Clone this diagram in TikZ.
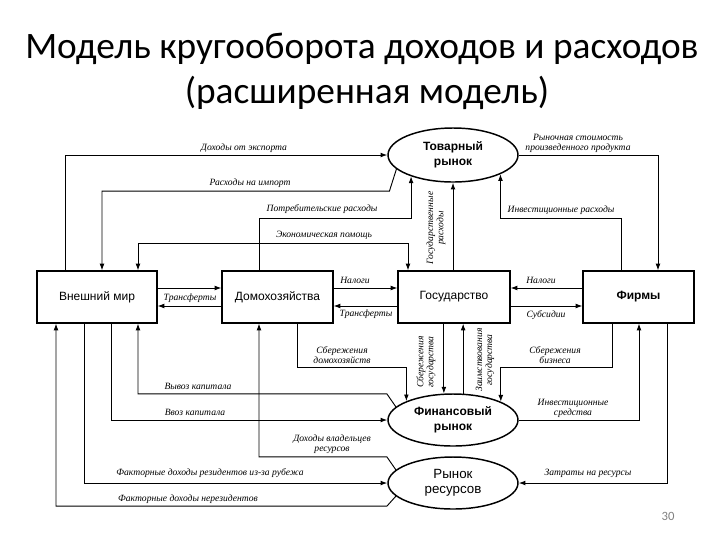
\documentclass[tikz,border=0pt]{standalone}
\usepackage{fontspec}
\setmainfont{Liberation Serif}
\newfontfamily\boxfont{Liberation Sans}
\newfontfamily\titlefont{Carlito}
\usetikzlibrary{shapes.geometric,arrows.meta}
\tikzset{
  box/.style={draw, line width=0.9pt, minimum height=39pt, inner sep=0pt,
    font=\boxfont\fontsize{9}{10}\selectfont},
  mkt/.style={ellipse, draw, line width=1.1pt, minimum width=97.5pt, inner sep=0pt,
    align=center, font=\boxfont\fontsize{9}{11}\selectfont},
  con/.style={line width=0.7pt},
  arr/.style={con, -{Latex[length=5pt,width=3.6pt]}},
  biarr/.style={con, {Latex[length=5pt,width=3.6pt]}-{Latex[length=5pt,width=3.6pt]}},
  lbl/.style={font=\itshape\fontsize{7.2}{7.6}\selectfont, inner sep=0pt, align=center},
  titlef/.style={font=\titlefont\fontsize{28}{32}\selectfont, inner sep=0pt}
}
\begin{document}
\begin{tikzpicture}[x=0.75pt,y=-0.75pt]
\useasboundingbox (0,0) rectangle (720,540);
% title
\node[titlef, anchor=base] (t1) at (362,58) {Модель кругооборота доходов и расходов};
\node[titlef, anchor=base] (t2) at (367,103) {(расширенная модель)};
% boxes
\node[box, minimum width=90pt] (wm) at (97,297) {Внешний мир};
\node[box, minimum width=83.25pt] (hh) at (277.5,297) {Домохозяйства};
\node[box, minimum width=84pt] (gov) at (454,297) {Государство};
\node[box, minimum width=83.25pt, font=\boxfont\bfseries\fontsize{9}{10}\selectfont] (fm) at (638.5,297) {Фирмы};
% markets
\node[mkt, minimum height=40.5pt, font=\boxfont\bfseries\fontsize{9}{11}\selectfont] (tov) at (453,155) {Товарный\\рынок};
\node[mkt, minimum height=39pt, font=\boxfont\bfseries\fontsize{9}{11}\selectfont] (fin) at (453,420) {Финансовый\\рынок};
\node[mkt, minimum height=39pt, font=\boxfont\fontsize{10}{11.5}\selectfont] (res) at (453,483) {Рынок\\ресурсов};
% connectors: goods market
\draw[arr] (wm.north -| 65,0) |- (tov.west);
\draw[arr] (tov.194) -- ++(-7,22) -| (wm.north -| 102,0);
\draw[arr] (hh.north -| 259,0) -- (259,218) -| (tov.207);
\draw[biarr] (gov.north -| 408,0) -- (408,243) -| (wm.north -| 138,0);
\draw[arr] (gov.north -| tov.south) -- (tov.south);
\draw[arr] (tov.east) -| (fm.north -| 658,0);
\draw[arr] (fm.north -| 621,0) -- (621,218) -| (tov.338);
% horizontal flows
\draw[arr] (wm.east |- 0,288) -- (hh.west |- 0,288);
\draw[arr] (hh.west |- 0,306) -- (wm.east |- 0,306);
\draw[arr] (hh.east |- 0,288) -- (gov.west |- 0,288);
\draw[arr] (gov.west |- 0,306) -- (hh.east |- 0,306);
\draw[arr] (fm.west |- 0,288) -- (gov.east |- 0,288);
\draw[arr] (gov.east |- 0,306) -- (fm.west |- 0,306);
% financial market
\draw[arr] (hh.south -| 297,0) -- (297,367) -| (fin.158);
\draw[arr] (gov.south -| fin.109) -- (fin.109);
\draw[arr] (fin.69) -- (gov.south -| fin.69);
\draw[arr] (fm.south -| 612,0) -- (612,367) -| (fin.21);
\draw[arr] (fin.east) -| (fm.south -| 639,0);
\draw[arr] (fin.167) -- ++(-9,-13) -| (wm.south -| 138,0);
\draw[arr] (wm.south -| 111,0) |- (fin.west);
% resource market
\draw[arr] (res.167) -- ++(-9,-13) -| (hh.south -| 259,0);
\draw[arr] (wm.south -| 84,0) |- (res.west);
\draw[arr] (fm.south -| 667,0) |- (res.east);
\draw[arr] (res.193) -- ++(-9,10) -| (wm.south -| 56,0);
% labels
\node[lbl] (l1) at (244,148) {Доходы от экспорта};
\node[lbl] (l2) at (250,183) {Расходы на импорт};
\node[lbl] (l3) at (322,209) {Потребительские расходы};
\node[lbl] (l4) at (324,235) {Экономическая помощь};
\node[lbl, rotate=90] (l5) at (436,228) {Государственные\\расходы};
\node[lbl] (l6) at (578,143) {Рыночная стоимость\\произведенного продукта};
\node[lbl] (l7) at (561,210) {Инвестиционные расходы};
\node[lbl] (l8) at (190,298) {Трансферты};
\node[lbl] (l9) at (355,280) {Налоги};
\node[lbl] (l10) at (366,314) {Трансферты};
\node[lbl] (l11) at (541,280) {Налоги};
\node[lbl] (l12) at (546,315) {Субсидии};
\node[lbl] (l13) at (342,355) {Сбережения\\домохозяйств};
\node[lbl, rotate=90] (l14) at (426,362) {Сбережения\\государства};
\node[lbl, rotate=90] (l15) at (485,360) {Заимствования\\государства};
\node[lbl] (l16) at (555,355) {Сбережения\\бизнеса};
\node[lbl] (l17) at (573,408) {Инвестиционные\\средства};
\node[lbl] (l18) at (588,473) {Затраты на ресурсы};
\node[lbl] (l19) at (198,386) {Вывоз капитала};
\node[lbl] (l20) at (195,412) {Ввоз капитала};
\node[lbl] (l21) at (332,444) {Доходы владельцев\\ресурсов};
\node[lbl] (l22) at (210,473) {Факторные доходы резидентов из-за рубежа};
\node[lbl] (l23) at (188,499) {Факторные доходы нерезидентов};
% page number
\node[font=\titlefont\fontsize{9.5}{10}\selectfont, text=gray] (pg) at (668,516) {30};
\end{tikzpicture}
\end{document}
